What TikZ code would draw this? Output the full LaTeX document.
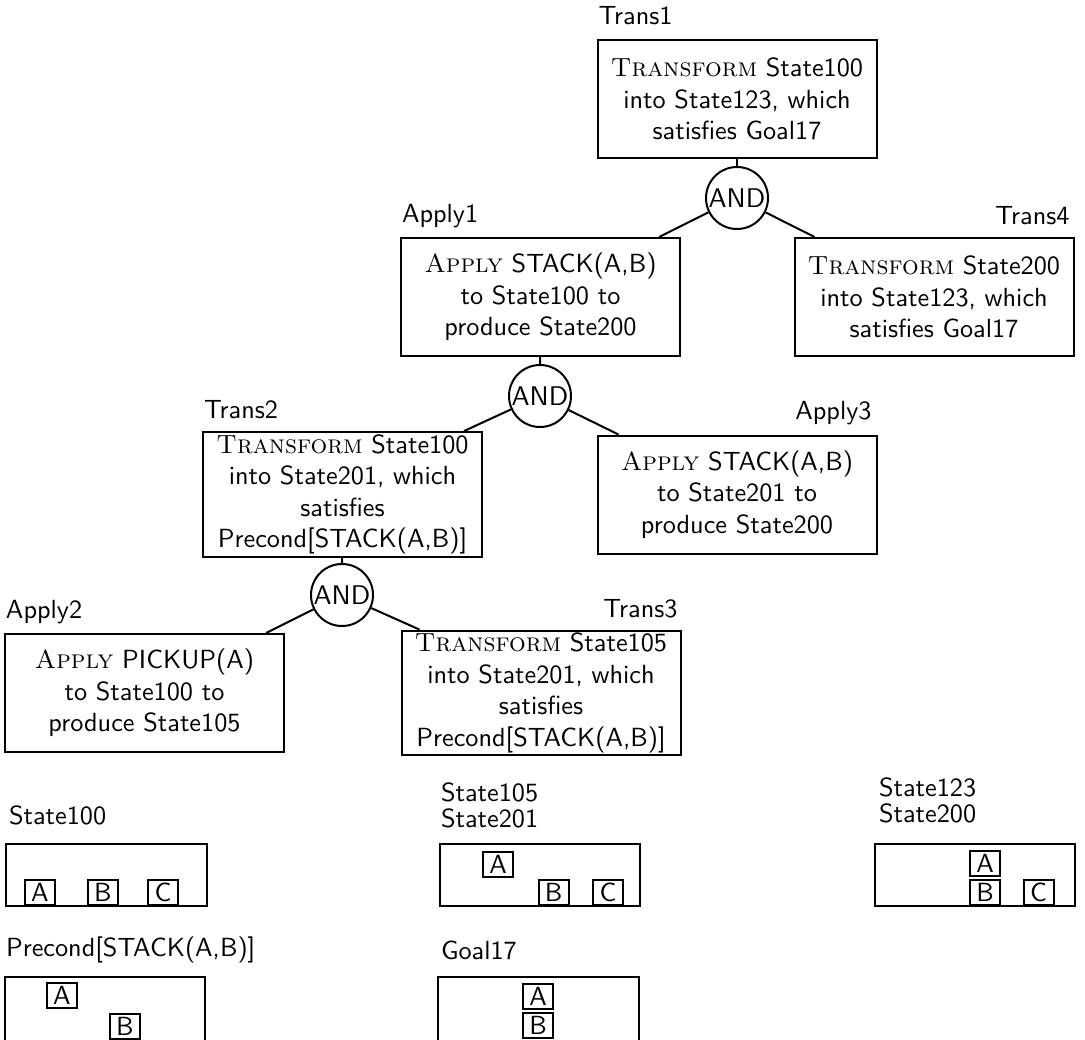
\documentclass[tikz,border=0pt]{standalone}
\usetikzlibrary{positioning,calc}
\newcommand{\scword}[1]{{\rmfamily\scshape #1}}

\begin{document}
\begin{tikzpicture}[x=0.4pt, y=-0.4pt, line width=0.8pt,
  goalbox/.style={draw, rectangle, align=center, minimum width=111.6pt, minimum height=47.2pt, inner sep=1pt, font=\sffamily\fontsize{10.5}{12.6}\selectfont},
  andnode/.style={draw, circle, minimum size=24.8pt, inner sep=0pt, font=\sffamily\fontsize{10.8}{12.6}\selectfont},
  tag/.style={inner sep=0pt, font=\sffamily\fontsize{10.5}{12.6}\selectfont},
  block/.style={draw, rectangle, minimum width=12pt, minimum height=10pt, inner sep=0pt, font=\sffamily\fontsize{10.5}{12.6}\selectfont}]
\useasboundingbox (0,0) rectangle (1085,1039);
\clip (0,0) rectangle (1085,1039);

% goal tree
\node [goalbox] (trans1) at (737,99) {\scword{Transform} State100\\into State123, which\\satisfies Goal17};
\node [andnode] (and1) at (737,198) {AND};
\node [goalbox] (apply1) at (540.5,297) {\scword{Apply} STACK(A,B)\\to State100 to\\produce State200};
\node [goalbox] (trans4) at (934,297) {\scword{Transform} State200\\into State123, which\\satisfies Goal17};
\node [andnode] (and2) at (540,396) {AND};
\node [goalbox] (trans2) at (342.5,494.5) {\scword{Transform} State100\\into State201, which\\satisfies\\Precond[STACK(A,B)]};
\node [goalbox] (apply3) at (737,494.5) {\scword{Apply} STACK(A,B)\\to State201 to\\produce State200};
\node [andnode] (and3) at (342,595) {AND};
\node [goalbox] (apply2) at (144.5,693) {\scword{Apply} PICKUP(A)\\to State100 to\\produce State105};
\node [goalbox] (trans3) at (541,693) {\scword{Transform} State105\\into State201, which\\satisfies\\Precond[STACK(A,B)]};

% names of the goals
\node [tag, anchor=west] at ($(trans1.north west)+(1,-23)$) {Trans1};
\node [tag, anchor=west] at ($(apply1.north west)+(1,-21)$) {Apply1};
\node [tag, anchor=east] at ($(trans4.north east)+(-4,-21)$) {Trans4};
\node [tag, anchor=west] at ($(trans2.north west)+(1,-21)$) {Trans2};
\node [tag, anchor=east] at ($(apply3.north east)+(-5,-21)$) {Apply3};
\node [tag, anchor=west] at ($(apply2.north west)+(1,-21)$) {Apply2};
\node [tag, anchor=east] at ($(trans3.north east)+(-3,-21)$) {Trans3};

% connectors
\draw (trans1) -- (and1);
\draw (and1) -- ($(apply1.north east)+(-22,0)$);
\draw (and1) -- ($(trans4.north west)+(21,0)$);
\draw (apply1) -- (and2);
\draw (and2) -- ($(trans2.north east)+(-19,0)$);
\draw (and2) -- ($(apply3.north west)+(22,0)$);
\draw (trans2) -- (and3);
\draw (and3) -- ($(apply2.north east)+(-19,0)$);
\draw (and3) -- ($(trans3.north west)+(19,0)$);

% states
\node [tag, anchor=west] at (8,815) {State100};
\draw (6,844) rectangle (207,906);
\node [block, anchor=south] (a100) at (40,906) {A};
\node [block, anchor=south] (b100) at (103,906) {B};
\node [block, anchor=south] (c100) at (163,906) {C};

\node [tag, anchor=west] at (440,792) {State105};
\node [tag, anchor=west] at (440,818) {State201};
\draw (440,844) rectangle (640,906);
\node [block, anchor=south] (b201) at (553.5,906) {B};
\node [block, anchor=south] (c201) at (608,906) {C};
\node [block] (a201) at (498,864.5) {A};

\node [tag, anchor=west] at (878,787) {State123};
\node [tag, anchor=west] at (878,813) {State200};
\draw (875,844) rectangle (1075,906);
\node [block, anchor=south] (b200) at (985,906) {B};
\node [block, above=0.8pt of b200] (a200) {A};
\node [block, anchor=south] (c200) at (1038.5,906) {C};

\node [tag, anchor=west] at (5,950) {Precond[STACK(A,B)]};
\draw (5,977) rectangle (205,1045);
\node [block] (apre) at (62,995.5) {A};
\node [block, anchor=north] (bpre) at (125,1013) {B};

\node [tag, anchor=west] at (440,950) {Goal17};
\draw (438,977) rectangle (639,1045);
\node [block] (agoal) at (538,996) {A};
\node [block, below=0.8pt of agoal] (bgoal) {B};
\end{tikzpicture}
\end{document}
